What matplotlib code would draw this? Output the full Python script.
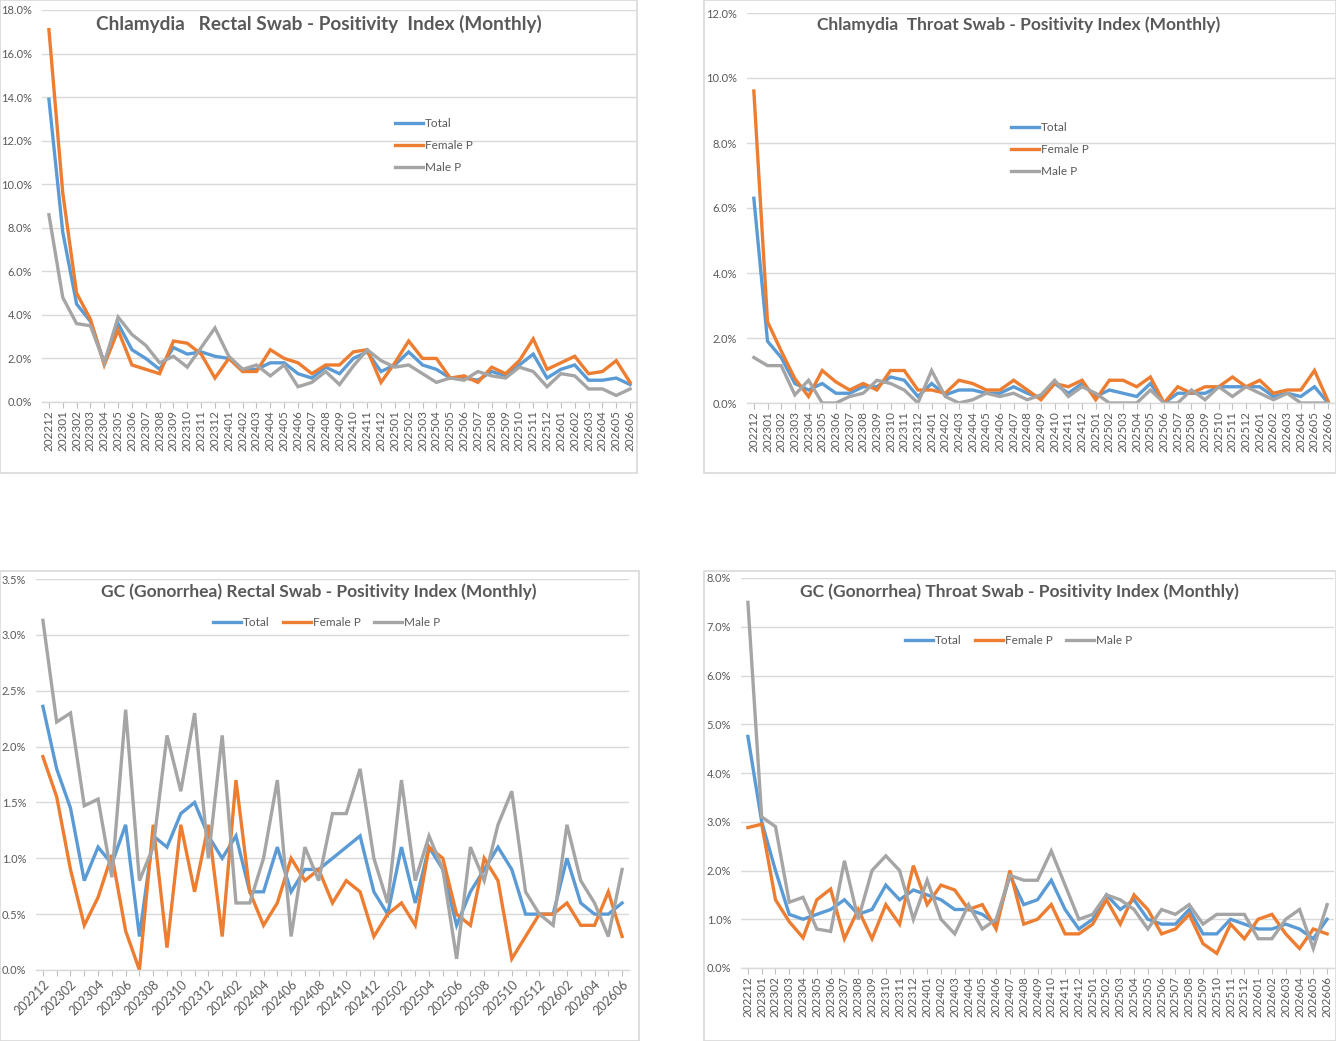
import matplotlib
matplotlib.use("Agg")
import matplotlib.pyplot as plt
from matplotlib.patches import Rectangle
from matplotlib.ticker import FuncFormatter, MultipleLocator

plt.rcParams['font.family'] = ['Lato', 'DejaVu Sans']

W, H = 1336, 1041

MONTHS = ["202212",
          "202301", "202302", "202303", "202304", "202305", "202306",
          "202307", "202308", "202309", "202310", "202311", "202312",
          "202401", "202402", "202403", "202404", "202405", "202406",
          "202407", "202408", "202409", "202410", "202411", "202412",
          "202501", "202502", "202503", "202504", "202505", "202506",
          "202507", "202508", "202509", "202510", "202511", "202512",
          "202601", "202602", "202603", "202604", "202605", "202606"]

SERIES = ["Total", "Female P", "Male P"]

# Chlamydia rectal (%)
CT_RECTAL_TOTAL = [13.9, 7.8, 4.5, 3.7, 1.8, 3.6, 2.4, 2.0, 1.5, 2.5, 2.2, 2.3, 2.1,
                   2.0, 1.5, 1.5, 1.8, 1.8, 1.3, 1.1, 1.6, 1.3, 2.0, 2.3, 1.4,
                   1.7, 2.3, 1.7, 1.5, 1.1, 1.1, 1.0, 1.4, 1.2, 1.7, 2.2, 1.1,
                   1.5, 1.7, 1.0, 1.0, 1.1, 0.8]
CT_RECTAL_FEMALE = [17.1, 9.6, 5.0, 3.8, 1.7, 3.3, 1.7, 1.5, 1.3, 2.8, 2.7, 2.2, 1.1,
                    2.0, 1.4, 1.4, 2.4, 2.0, 1.8, 1.3, 1.7, 1.7, 2.3, 2.4, 0.9,
                    1.8, 2.8, 2.0, 2.0, 1.1, 1.2, 0.9, 1.6, 1.3, 1.9, 2.9, 1.5,
                    1.8, 2.1, 1.3, 1.4, 1.9, 0.9]
CT_RECTAL_MALE = [8.6, 4.8, 3.6, 3.5, 1.8, 3.9, 3.1, 2.6, 1.8, 2.1, 1.6, 2.5, 3.4,
                  2.1, 1.5, 1.7, 1.2, 1.7, 0.7, 0.9, 1.4, 0.8, 1.65, 2.4, 1.9,
                  1.6, 1.7, 1.3, 0.9, 1.1, 1.0, 1.4, 1.2, 1.1, 1.6, 1.4, 0.7,
                  1.3, 1.2, 0.6, 0.6, 0.3, 0.6]

# Chlamydia throat (%)
CT_THROAT_TOTAL = [6.3, 1.9, 1.4, 0.6, 0.4, 0.6, 0.3, 0.3, 0.5, 0.5, 0.8, 0.7, 0.2,
                   0.6, 0.25, 0.4, 0.4, 0.3, 0.3, 0.5, 0.3, 0.15, 0.6, 0.3, 0.6,
                   0.2, 0.4, 0.3, 0.2, 0.6, 0.0, 0.3, 0.3, 0.3, 0.5, 0.5, 0.5,
                   0.5, 0.2, 0.3, 0.2, 0.5, 0.0]
CT_THROAT_FEMALE = [9.6, 2.5, 1.6, 0.75, 0.2, 1.0, 0.65, 0.4, 0.6, 0.4, 1.0, 1.0, 0.4,
                    0.4, 0.3, 0.7, 0.6, 0.4, 0.4, 0.7, 0.4, 0.1, 0.6, 0.5, 0.7,
                    0.1, 0.7, 0.7, 0.5, 0.8, 0.0, 0.5, 0.3, 0.5, 0.5, 0.8, 0.5,
                    0.7, 0.3, 0.4, 0.4, 1.0, 0.05]
CT_THROAT_MALE = [1.4, 1.15, 1.15, 0.25, 0.7, 0.0, 0.0, 0.2, 0.3, 0.7, 0.6, 0.4, 0.0,
                  1.0, 0.2, 0.0, 0.1, 0.3, 0.2, 0.3, 0.1, 0.25, 0.7, 0.2, 0.5,
                  0.3, 0.0, 0.0, 0.0, 0.4, 0.0, 0.0, 0.4, 0.1, 0.5, 0.2, 0.5,
                  0.3, 0.1, 0.3, 0.0, 0.0, 0.0]

# Gonorrhea rectal (%)
GC_RECTAL_TOTAL = [2.36, 1.8, 1.45, 0.8, 1.1, 0.95, 1.3, 0.3, 1.2, 1.1, 1.4, 1.5, 1.2,
                   1.0, 1.2, 0.7, 0.7, 1.1, 0.7, 0.9, 0.9, 1.0, 1.1, 1.2, 0.7,
                   0.5, 1.1, 0.6, 1.1, 0.9, 0.4, 0.7, 0.9, 1.1, 0.9, 0.5, 0.5,
                   0.5, 1.0, 0.6, 0.5, 0.5, 0.6]
GC_RECTAL_FEMALE = [1.91, 1.55, 0.9, 0.4, 0.65, 1.03, 0.35, 0.0, 1.3, 0.2, 1.3, 0.7, 1.3,
                    0.3, 1.7, 0.7, 0.4, 0.6, 1.0, 0.8, 0.9, 0.6, 0.8, 0.7, 0.3,
                    0.5, 0.6, 0.4, 1.1, 1.0, 0.5, 0.4, 1.0, 0.8, 0.1, 0.3, 0.5,
                    0.5, 0.6, 0.4, 0.4, 0.7, 0.3]
GC_RECTAL_MALE = [3.13, 2.22, 2.3, 1.47, 1.53, 0.83, 2.33, 0.8, 1.1, 2.1, 1.6, 2.3, 1.0,
                  2.1, 0.6, 0.6, 1.0, 1.7, 0.3, 1.1, 0.8, 1.4, 1.4, 1.8, 1.0,
                  0.6, 1.7, 0.8, 1.2, 0.9, 0.1, 1.1, 0.8, 1.3, 1.6, 0.7, 0.5,
                  0.4, 1.3, 0.8, 0.6, 0.3, 0.9]

# Gonorrhea throat (%)
GC_THROAT_TOTAL = [4.75, 3.0, 2.0, 1.1, 1.0, 1.1, 1.2, 1.4, 1.1, 1.2, 1.7, 1.4, 1.6,
                   1.5, 1.4, 1.2, 1.2, 1.1, 0.9, 1.9, 1.3, 1.4, 1.8, 1.2, 0.8,
                   1.0, 1.5, 1.2, 1.4, 1.0, 0.9, 0.9, 1.2, 0.7, 0.7, 1.0, 0.9,
                   0.8, 0.8, 0.9, 0.8, 0.6, 1.0]
GC_THROAT_FEMALE = [2.88, 2.95, 1.4, 0.95, 0.62, 1.4, 1.62, 0.6, 1.2, 0.6, 1.3, 0.9, 2.1,
                    1.3, 1.7, 1.6, 1.2, 1.3, 0.8, 2.0, 0.9, 1.0, 1.3, 0.7, 0.7,
                    0.9, 1.4, 0.9, 1.5, 1.2, 0.7, 0.8, 1.1, 0.5, 0.3, 0.9, 0.6,
                    1.0, 1.1, 0.7, 0.4, 0.8, 0.7]
GC_THROAT_MALE = [7.5, 3.1, 2.9, 1.35, 1.45, 0.8, 0.75, 2.2, 1.0, 2.0, 2.3, 2.0, 1.0,
                  1.8, 1.0, 0.7, 1.3, 0.8, 1.0, 1.9, 1.8, 1.8, 2.4, 1.7, 1.0,
                  1.1, 1.5, 1.4, 1.2, 0.8, 1.2, 1.1, 1.3, 0.9, 1.1, 1.1, 1.1,
                  0.6, 0.6, 1.0, 1.2, 0.4, 1.3]

COLORS = ['#5B9BD5', '#ED7D31', '#A5A5A5']
GRID = '#D9D9D9'
TEXT = '#595959'

fig = plt.figure(figsize=(W / 100, H / 100), dpi=100)


def px_axes(left, top, right, bottom):
    return fig.add_axes([left / W, 1 - bottom / H, (right - left) / W, (bottom - top) / H])


def box(left, top, right, bottom):
    fig.patches.append(Rectangle((left / W, 1 - bottom / H), (right - left) / W,
                                 (bottom - top) / H, transform=fig.transFigure,
                                 fill=False, edgecolor=GRID, lw=1.2))


def panel(area, frame, series, ymax, ystep, title, title_xy, leg_xy, leg_cols,
          every=1, rot=90, title_size=12.5):
    box(*frame)
    ax = px_axes(*area)
    x = list(range(len(MONTHS)))
    for vals, name, c in zip(series, SERIES, COLORS):
        ax.plot(x, [v / 100 for v in vals], color=c, lw=2.4, label=name,
                solid_joinstyle='miter')
    ax.set_xlim(-0.5, len(MONTHS) - 0.5)
    ax.set_ylim(0, ymax / 100)
    ax.yaxis.set_major_locator(MultipleLocator(ystep / 100))
    ax.yaxis.set_major_formatter(FuncFormatter(lambda v, p: f"{v * 100:.1f}%"))
    ax.grid(axis='y', color=GRID, lw=1.0)
    ax.set_axisbelow(True)
    for s in ['top', 'right', 'left']:
        ax.spines[s].set_visible(False)
    ax.spines['bottom'].set_color(GRID)
    ax.spines['bottom'].set_linewidth(1.0)
    ax.set_xticks(x)
    labels = [m if i % every == 0 else '' for i, m in enumerate(MONTHS)]
    if rot == 90:
        ax.set_xticklabels(labels, rotation=90)
        ax.tick_params(axis='x', labelsize=8.5)
    else:
        ax.set_xticklabels(labels, rotation=45, ha='right', rotation_mode='anchor')
        ax.tick_params(axis='x', labelsize=9)
    ax.tick_params(axis='x', colors=TEXT, length=4, color='#BFBFBF', pad=2)
    ax.tick_params(axis='y', colors=TEXT, labelsize=8, length=0, pad=7)
    fig.text(title_xy[0] / W, 1 - title_xy[1] / H, title, ha='center', va='center',
             fontsize=title_size, fontweight='bold', color=TEXT)
    leg = ax.legend(loc='upper left', bbox_to_anchor=(leg_xy[0] / W, 1 - leg_xy[1] / H),
                    bbox_transform=fig.transFigure, frameon=False, ncol=leg_cols,
                    fontsize=8.5, handlelength=2.4, handletextpad=0.15,
                    labelspacing=0.92, columnspacing=1.1, borderpad=0, borderaxespad=0)
    for t in leg.get_texts():
        t.set_color(TEXT)
    return ax


panel((42, 10, 637, 402), (0, 0, 637, 473),
      [CT_RECTAL_TOTAL, CT_RECTAL_FEMALE, CT_RECTAL_MALE], 18, 2,
      "Chlamydia   Rectal Swab - Positivity  Index (Monthly)", (319, 24),
      (395, 118), 1, title_size=13.7)

panel((747, 13, 1335, 403), (704, 0, 1336, 473),
      [CT_THROAT_TOTAL, CT_THROAT_FEMALE, CT_THROAT_MALE], 12, 2,
      "Chlamydia  Throat Swab - Positivity Index (Monthly)", (1019, 25),
      (1011, 122), 1)

panel((36, 579, 629, 970), (0, 571, 639, 1041),
      [GC_RECTAL_TOTAL, GC_RECTAL_FEMALE, GC_RECTAL_MALE], 3.5, 0.5,
      "GC (Gonorrhea) Rectal Swab - Positivity Index (Monthly)", (319, 592),
      (213, 617), 3, every=2, rot=45)

panel((741, 578, 1334, 968), (704, 571, 1336, 1041),
      [GC_THROAT_TOTAL, GC_THROAT_FEMALE, GC_THROAT_MALE], 8, 1,
      "GC (Gonorrhea) Throat Swab - Positivity Index (Monthly)", (1019, 592),
      (905, 635), 3)

fig.savefig("out.png", dpi=100, facecolor='white')
